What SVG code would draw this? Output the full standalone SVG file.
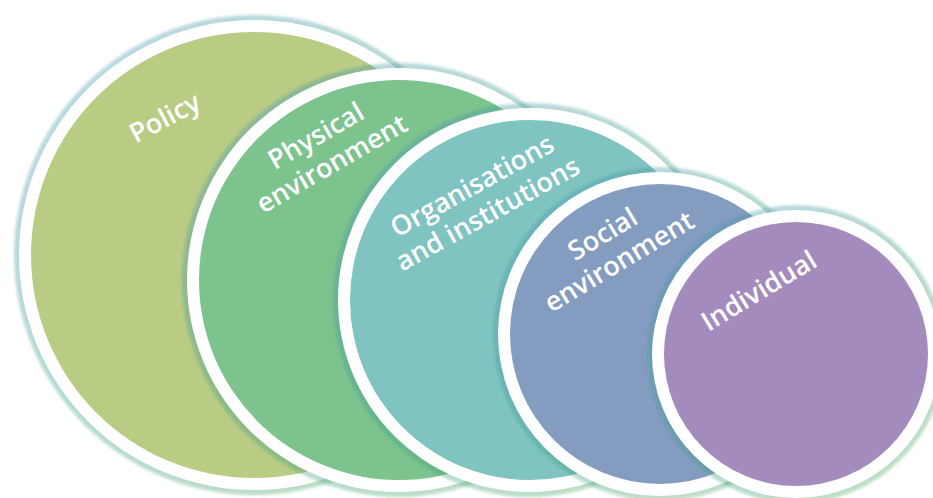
<svg xmlns="http://www.w3.org/2000/svg" width="933" height="498" viewBox="0 0 933 498">
  <defs>
    <linearGradient id="rim" x1="0" y1="0" x2="1" y2="1">
      <stop offset="0" stop-color="#4f97c2"/>
      <stop offset="0.5" stop-color="#3f9f86"/>
      <stop offset="1" stop-color="#5aaf56"/>
    </linearGradient>
    <filter id="soft" x="-10%" y="-10%" width="120%" height="120%">
      <feGaussianBlur stdDeviation="1.6"/>
    </filter>
  </defs>
  <style>
    .rim { fill: url(#rim); opacity: 0.38; filter: url(#soft); }
    .ring { fill: #ffffff; }
    .lbl { font-family: "Open Sans", "Liberation Sans", sans-serif; font-weight: 600; font-size: 27px; fill: #ffffff; text-anchor: middle; }
  </style>
  <rect width="933" height="498" fill="#ffffff"/>

  <g id="policy">
    <circle class="rim" cx="254" cy="255" r="240"/>
    <circle class="ring" cx="254" cy="255" r="235"/>
    <circle cx="254" cy="255" r="223" fill="#b8cc84"/>
    <text class="lbl" transform="translate(165,118) rotate(-28)" y="9">Policy</text>
  </g>

  <g id="physical">
    <circle class="rim" cx="399" cy="280" r="217"/>
    <circle class="ring" cx="399" cy="280" r="212"/>
    <circle cx="399" cy="280" r="200" fill="#7cc38d"/>
    <g transform="translate(324,150) rotate(-30)">
      <text class="lbl" y="-7">Physical</text>
      <text class="lbl" y="25">environment</text>
    </g>
  </g>

  <g id="organisations">
    <circle class="rim" cx="530" cy="300" r="197"/>
    <circle class="ring" cx="530" cy="300" r="192"/>
    <circle cx="530" cy="300" r="180" fill="#7fc4c0"/>
    <g transform="translate(480,200) rotate(-29)">
      <text class="lbl" y="-7">Organisations</text>
      <text class="lbl" y="25">and institutions</text>
    </g>
  </g>

  <g id="social">
    <circle class="rim" cx="660" cy="334" r="167"/>
    <circle class="ring" cx="660" cy="334" r="162"/>
    <circle cx="660" cy="334" r="150" fill="#849cc0"/>
    <g transform="translate(611,248) rotate(-31)">
      <text class="lbl" y="-7">Social</text>
      <text class="lbl" y="25">environment</text>
    </g>
  </g>

  <g id="individual">
    <circle class="rim" cx="796" cy="354" r="149"/>
    <circle class="ring" cx="796" cy="354" r="144"/>
    <circle cx="796" cy="354" r="132" fill="#a48bbd"/>
    <text class="lbl" transform="translate(759,291) rotate(-31)" y="9">Individual</text>
  </g>

  <g id="connectors"></g>
</svg>
